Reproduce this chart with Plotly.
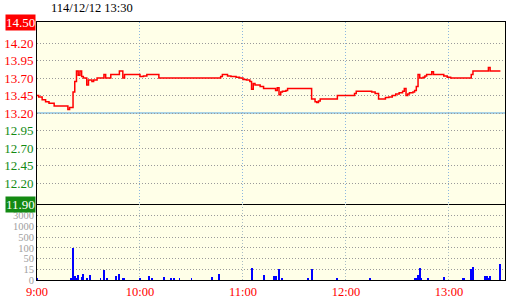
import numpy as np
import plotly.graph_objects as go
from plotly.subplots import make_subplots

trade_date = "2025-12-12"
title_text = "114/12/12 13:30"
ref_price = 13.20

price_times = ["09:00", "09:01", "09:03", "09:05", "09:07", "09:10", "09:18", "09:19", "09:21", "09:22",
               "09:23", "09:24", "09:25", "09:26", "09:27", "09:29", "09:30", "09:32", "09:33", "09:35",
               "09:39", "09:40", "09:43", "09:48", "09:50", "09:51", "10:00", "10:02", "10:04", "10:11",
               "10:47", "10:48", "10:51", "10:53", "10:56", "10:58", "11:00", "11:02", "11:04", "11:05",
               "11:06", "11:07", "11:10", "11:12", "11:19", "11:20", "11:21", "11:22", "11:23", "11:25",
               "11:26", "11:40", "11:42", "11:43", "11:44", "11:45", "11:55", "12:05", "12:06", "12:15",
               "12:17", "12:19", "12:23", "12:25", "12:27", "12:29", "12:31", "12:33", "12:34", "12:35",
               "12:36", "12:37", "12:39", "12:40", "12:41", "12:42", "12:43", "12:45", "12:46", "12:47",
               "12:50", "12:51", "12:57", "12:59", "13:01", "13:13", "13:14", "13:23", "13:24", "13:30"]
price_vals = [13.45, 13.43, 13.39, 13.36, 13.34, 13.30, 13.25, 13.28, 13.50, 13.65,
              13.80, 13.74, 13.80, 13.72, 13.70, 13.60, 13.67, 13.65, 13.67, 13.70,
              13.75, 13.70, 13.75, 13.80, 13.70, 13.75, 13.72, 13.73, 13.75, 13.70,
              13.72, 13.75, 13.73, 13.72, 13.71, 13.70, 13.68, 13.67, 13.65, 13.54,
              13.62, 13.60, 13.58, 13.55, 13.52, 13.56, 13.46, 13.50, 13.51, 13.52,
              13.55, 13.40, 13.36, 13.35, 13.37, 13.40, 13.45, 13.48, 13.51, 13.50,
              13.48, 13.40, 13.42, 13.43, 13.45, 13.47, 13.49, 13.51, 13.55, 13.45,
              13.47, 13.49, 13.50, 13.52, 13.58, 13.75, 13.70, 13.71, 13.73, 13.75,
              13.79, 13.75, 13.73, 13.71, 13.70, 13.75, 13.80, 13.85, 13.80, 13.80]

vol_times = ["09:00", "09:20", "09:21", "09:22", "09:23", "09:24", "09:26", "09:27", "09:29", "09:31",
             "09:37", "09:39", "09:41", "09:46", "09:48", "09:50", "09:51", "10:00", "10:05", "10:07",
             "10:14", "10:18", "10:20", "10:23", "10:30", "10:42", "10:46", "11:05", "11:12", "11:18",
             "11:19", "11:21", "11:23", "11:38", "11:40", "11:55", "12:14", "12:40", "12:41", "12:42",
             "12:43", "12:44", "12:48", "12:57", "13:08", "13:09", "13:13", "13:14", "13:21", "13:22",
             "13:23", "13:24", "13:30"]
vol_vals = [3, 3, 110, 5, 2, 7, 4, 9, 3, 7,
            3, 14, 2, 5, 8, 1.5, 3, 2, 6, 1.5,
            4, 1.5, 3, 1.5, 3, 4, 8, 20, 7, 5,
            5, 15, 3, 1.5, 16, 1.5, 1.5, 1.5, 1.5, 7,
            20, 1.5, 1.5, 4, 1.5, 1.5, 15, 24, 5, 5,
            2, 6, 32]

price_ticks = [14.50, 14.20, 13.95, 13.70, 13.45, 13.20, 12.95, 12.70, 12.45, 12.20, 11.90]
vol_levels = [0, 15, 50, 100, 500, 1000, 3000]
hour_ticks = ["09:00", "10:00", "11:00", "12:00", "13:00"]
hour_labels = ["9:00", "10:00", "11:00", "12:00", "13:00"]

RED = "#FF0000"
GREEN = "#138A13"
FONT = "Liberation Serif"
DOT = "1px,2px"


def ts(hm):
    return f"{trade_date} {hm}:00"


px_t = [ts(t) for t in price_times]
vx_t = [ts(t) for t in vol_times]
vol_pos = np.interp(vol_vals, vol_levels, np.arange(len(vol_levels)))

fig = make_subplots(rows=2, cols=1, shared_xaxes=True, vertical_spacing=0,
                    row_heights=[182 / 258, 76 / 258])

fig.add_trace(go.Scatter(x=px_t, y=price_vals, mode="lines", line=dict(color=RED, width=1.5, shape="hv"),
                         hoverinfo="skip", showlegend=False), row=1, col=1)
fig.add_trace(go.Bar(x=vx_t, y=vol_pos, marker=dict(color="#0000FF", line=dict(width=0)), width=32000,
                     hoverinfo="skip", showlegend=False), row=2, col=1)

fig.add_hline(y=ref_price, line=dict(color="#8EC4E6", width=1.5), layer="below", row=1, col=1)

x_range = [ts("09:00"), f"{trade_date} 13:32:40"]

ticktext = []
for p in price_ticks:
    if p in (price_ticks[0], price_ticks[-1]):
        ticktext.append(" ")
    else:
        c = RED if p >= ref_price else GREEN
        ticktext.append(f"<span style='color:{c}'>{p:.2f}</span>")

common_x = dict(range=x_range, showline=True, linecolor="black", linewidth=1,
                zeroline=False, showgrid=True, griddash=DOT, gridwidth=1, ticks="", automargin=False,
                tickvals=[ts(h) for h in hour_ticks])
fig.update_xaxes(**common_x, mirror=True, gridcolor="#8DB8E0", showticklabels=False, row=1, col=1)
fig.update_xaxes(**common_x, mirror=False, gridcolor="#A9BCC4", ticktext=hour_labels, showticklabels=True,
                 tickfont=dict(family=FONT, size=12.5, color=RED), row=2, col=1)

fig.update_yaxes(range=[price_ticks[-1], price_ticks[0]], tickvals=price_ticks, ticktext=ticktext,
                 showgrid=True, gridcolor="#9A9A9A", griddash=DOT, gridwidth=1, zeroline=False,
                 showline=True, mirror=True, linecolor="black", linewidth=1, ticks="", automargin=False,
                 tickfont=dict(family=FONT, size=13, color=RED), row=1, col=1)
fig.update_yaxes(range=[0, 7.1], tickvals=list(range(len(vol_levels))), ticktext=[str(v) for v in vol_levels],
                 showgrid=True, gridcolor="#9A9A9A", griddash=DOT, gridwidth=1, zeroline=False,
                 showline=True, mirror=True, linecolor="black", linewidth=1, ticks="", automargin=False,
                 tickfont=dict(family=FONT, size=10.5, color="#A0A0A0"), row=2, col=1)

for p, bg in ((price_ticks[0], RED), (price_ticks[-1], GREEN)):
    fig.add_annotation(x=0, xref="paper", y=p, yref="y", xanchor="right", yanchor="middle",
                       text=f"{p:.2f}", showarrow=False, xshift=-1, bgcolor=bg, borderpad=0,
                       font=dict(family=FONT, size=13, color="white"))

fig.add_annotation(x=(48 - 37) / 468, xref="paper", y=1 + (22 - 8) / 258, yref="paper",
                   xanchor="left", yanchor="middle", text=title_text, showarrow=False, xshift=1,
                   font=dict(family=FONT, size=12.5, color="black"))

fig.update_layout(width=520, height=300, autosize=False,
                  margin=dict(l=37, r=15, t=22, b=20, pad=0),
                  plot_bgcolor="#FFFFE8", paper_bgcolor="white", bargap=0)

fig.write_html("out.html")
